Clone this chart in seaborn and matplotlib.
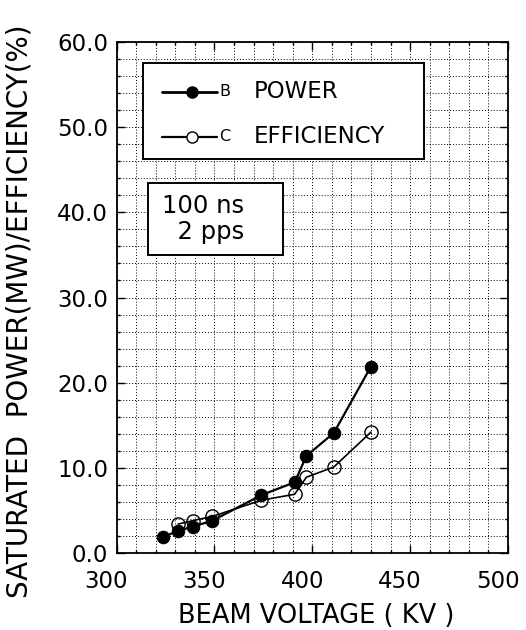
import numpy as np
import pandas as pd
import matplotlib
matplotlib.use('Agg')
import matplotlib.pyplot as plt
import matplotlib.transforms as mtransforms
from matplotlib.patches import Rectangle
from matplotlib.lines import Line2D
import seaborn as sns

# ── data ──
power_kv = [324, 331.5, 339, 349, 374, 391, 397, 411, 430]
power_mw = [1.9, 2.6, 3.1, 3.8, 6.8, 8.3, 11.4, 14.1, 21.9]
eff_kv = [331.5, 339, 349, 374, 391, 397, 411, 430]
eff_pct = [3.4, 3.8, 4.3, 6.2, 6.9, 8.9, 10.1, 14.2]

x_ticks = [300, 350, 400, 450, 500]
y_ticks = [0, 10, 20, 30, 40, 50, 60]

sns.set_style("ticks")
plt.rcParams['font.family'] = ['DejaVu Sans']
plt.rcParams.update({'text.color': 'black', 'axes.labelcolor': 'black',
                     'xtick.color': 'black', 'ytick.color': 'black'})

fig = plt.figure(figsize=(5.26, 6.30), dpi=100)
ax = fig.add_axes([0.2215, 0.1222, 0.7443, 0.8111])

df_p = pd.DataFrame({'kv': power_kv, 'val': power_mw})
df_e = pd.DataFrame({'kv': eff_kv, 'val': eff_pct})

sns.lineplot(data=df_p, x='kv', y='val', ax=ax, color='black', lw=1.6,
             marker='o', markersize=9, markerfacecolor='black',
             markeredgecolor='black', zorder=4)
sns.lineplot(data=df_e, x='kv', y='val', ax=ax, color='black', lw=1.2,
             marker='o', markersize=9.5, markerfacecolor='none',
             markeredgecolor='black', markeredgewidth=1.0, zorder=3)

ax.set_xlim(300, 500)
ax.set_ylim(0, 60)
ax.set_xticks(x_ticks)
ax.set_xticks(np.arange(300, 501, 10), minor=True)
ax.set_yticks(y_ticks)
ax.set_yticks(np.arange(0, 61, 2), minor=True)
ax.set_yticklabels([f'{v:.1f}' for v in y_ticks])
ax.grid(which='both', color='black', ls=(0, (1, 2)), lw=0.7)
ax.tick_params(which='both', direction='in', top=True, right=True,
               color='black', width=1.0)
ax.tick_params(which='major', length=6, labelsize=16.5)
ax.tick_params(axis='y', which='major', pad=6)
ax.tick_params(axis='x', which='major', pad=12)
for s in ax.spines.values():
    s.set_color('black')
    s.set_linewidth(1.3)

# x tick labels sit a little left of their ticks in the reference
shift = mtransforms.ScaledTranslation(-0.10, 0, fig.dpi_scale_trans)
for lab in ax.get_xticklabels():
    lab.set_transform(lab.get_transform() + shift)

ax.set_xlabel('BEAM VOLTAGE ( KV )', fontsize=18.5)
ax.xaxis.set_label_coords(0.511, -0.098)
ax.set_ylabel('SATURATED  POWER(MW)/EFFICIENCY(%)', fontsize=20)
ax.yaxis.set_label_coords(-0.213, 0.474)

# legend box drawn by hand
tr = ax.transAxes
ax.add_patch(Rectangle((0.068, 0.771), 0.717, 0.188, transform=tr,
                       facecolor='white', edgecolor='black', lw=1.4, zorder=5))
rows = [(0.903, 'black', 'B', 'POWER', 2.0),
        (0.815, 'white', 'C', 'EFFICIENCY', 1.6)]
for yy, fc, key, name, lw in rows:
    ax.add_line(Line2D([0.1155, 0.256], [yy, yy], transform=tr, color='black',
                       lw=lw, zorder=6))
    ax.add_line(Line2D([0.192], [yy], transform=tr, marker='o', markersize=8,
                       markerfacecolor=fc, markeredgecolor='black', zorder=7))
    ax.text(0.262, yy, key, transform=tr, fontsize=11.5, va='center', ha='left', zorder=7)
    ax.text(0.35, yy, name, transform=tr, fontsize=16.5, va='center', ha='left', zorder=7)

# pulse condition box
ax.add_patch(Rectangle((0.080, 0.583), 0.345, 0.1405, transform=tr,
                       facecolor='white', edgecolor='black', lw=1.4, zorder=5))
ax.text(0.117, 0.6535, '100 ns\n  2 pps', transform=tr, fontsize=17.5,
        va='center', ha='left', linespacing=1.1, zorder=6)

fig.savefig('out.png', dpi=100)
